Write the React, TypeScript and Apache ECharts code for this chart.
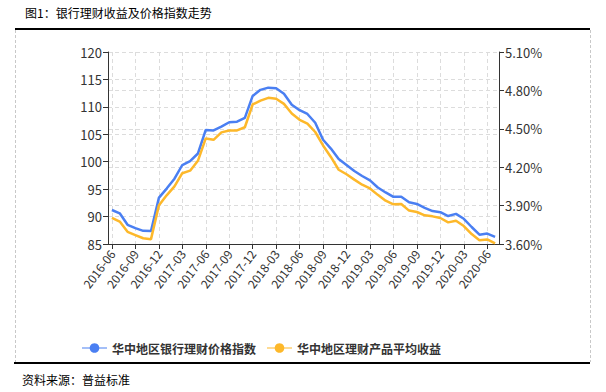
import React, { useEffect, useRef } from "react";
import * as echarts from "echarts";

const months = [
  "2016-06", "2016-07", "2016-08", "2016-09", "2016-10", "2016-11", "2016-12",
  "2017-01", "2017-02", "2017-03", "2017-04", "2017-05", "2017-06", "2017-07",
  "2017-08", "2017-09", "2017-10", "2017-11", "2017-12", "2018-01", "2018-02",
  "2018-03", "2018-04", "2018-05", "2018-06", "2018-07", "2018-08", "2018-09",
  "2018-10", "2018-11", "2018-12", "2019-01", "2019-02", "2019-03", "2019-04",
  "2019-05", "2019-06", "2019-07", "2019-08", "2019-09", "2019-10", "2019-11",
  "2019-12", "2020-01", "2020-02", "2020-03", "2020-04", "2020-05", "2020-06",
  "2020-07",
];

const priceIndex = [
  91.2, 90.6, 88.5, 87.9, 87.4, 87.35, 93.4, 95.1, 96.9, 99.4,
  100.1, 101.5, 105.8, 105.7, 106.4, 107.2, 107.3, 108.0, 112.0, 113.1,
  113.5, 113.4, 112.4, 110.4, 109.4, 108.7, 107.1, 104.0, 102.4, 100.5,
  99.4, 98.3, 97.4, 96.6, 95.3, 94.4, 93.6, 93.6, 92.6, 92.3,
  91.6, 91.0, 90.8, 90.1, 90.5, 89.6, 88.1, 86.7, 86.9, 86.3,
];

const avgYield = [
  3.805, 3.775, 3.695, 3.67, 3.645, 3.638, 3.9, 3.98, 4.05, 4.153,
  4.173, 4.25, 4.425, 4.414, 4.472, 4.486, 4.487, 4.512, 4.69, 4.72,
  4.742, 4.735, 4.695, 4.62, 4.57, 4.54, 4.475, 4.37, 4.28, 4.18,
  4.145, 4.103, 4.063, 4.034, 3.984, 3.938, 3.91, 3.912, 3.861, 3.85,
  3.824, 3.816, 3.803, 3.769, 3.782, 3.74, 3.678, 3.63, 3.636, 3.605,
];

const seriesNames = ["华中地区银行理财价格指数", "华中地区理财产品平均收益"];
const titleText = "图1：银行理财收益及价格指数走势";
const sourceText = "资料来源：普益标准";

const FONT = "'Microsoft YaHei', 'Noto Sans CJK SC', sans-serif";
const BLUE = "#4a7ff2";
const YELLOW = "#fdb82a";

export default function App() {
  const ref = useRef<HTMLDivElement>(null);
  useEffect(() => {
    if (!ref.current) return;
    const chart = echarts.init(ref.current, null, { renderer: "svg" });
    const splitLine = { show: true, lineStyle: { color: "#dcdcdc", type: [4, 3] as any, width: 1 } };
    chart.setOption({
      animation: false,
      textStyle: { fontFamily: FONT },
      grid: { left: 108, right: 107, top: 52, bottom: 148, containLabel: false },
      legend: {
        left: 76,
        top: 337,
        itemWidth: 25,
        itemHeight: 12,
        itemGap: 10,
        lineStyle: { opacity: 0.5 },
        textStyle: { fontSize: 12, fontWeight: "bold", color: "#333", fontFamily: FONT },
        data: seriesNames,
      },
      xAxis: {
        type: "category",
        data: months,
        boundaryGap: true,
        axisLine: { lineStyle: { color: "#333", width: 1 } },
        axisTick: { show: true, alignWithLabel: true, interval: 2, length: 5, lineStyle: { color: "#333" } },
        axisLabel: { interval: 2, rotate: 53, fontSize: 12, color: "#333", margin: 7, fontFamily: FONT },
        splitLine: { ...splitLine, interval: 2, alignWithLabel: true },
      },
      yAxis: [
        {
          type: "value",
          min: 85,
          max: 120,
          interval: 5,
          position: "left",
          axisLine: { show: true, lineStyle: { color: "#333" } },
          axisTick: { show: true, length: 5, lineStyle: { color: "#333" } },
          axisLabel: { fontSize: 13, color: "#333", margin: 6, fontFamily: FONT },
          splitLine,
        },
        {
          type: "value",
          min: 3.6,
          max: 5.1,
          interval: 0.3,
          position: "right",
          axisLine: { show: true, lineStyle: { color: "#333" } },
          axisTick: { show: true, length: 5, lineStyle: { color: "#333" } },
          axisLabel: {
            fontSize: 13,
            color: "#333",
            margin: 6,
            fontFamily: FONT,
            formatter: (v: number) => v.toFixed(2) + "%",
          },
          splitLine,
        },
      ],
      series: [
        {
          name: seriesNames[0],
          type: "line",
          yAxisIndex: 0,
          data: priceIndex,
          symbol: "circle",
          symbolSize: 10,
          showSymbol: false,
          itemStyle: { color: BLUE },
          lineStyle: { color: BLUE, width: 2.5 },
        },
        {
          name: seriesNames[1],
          type: "line",
          yAxisIndex: 1,
          data: avgYield,
          symbol: "circle",
          symbolSize: 10,
          showSymbol: false,
          itemStyle: { color: YELLOW },
          lineStyle: { color: YELLOW, width: 2.5 },
        },
      ],
      graphic: [
        {
          type: "text",
          left: 25,
          top: 6,
          style: { text: titleText, fontSize: 12, fill: "#000", fontFamily: FONT },
        },
        {
          type: "line",
          shape: { x1: 15, y1: 29, x2: 590, y2: 29 },
          style: { stroke: "#000", lineWidth: 2 },
        },
        {
          type: "line",
          shape: { x1: 15.5, y1: 30, x2: 15.5, y2: 362 },
          style: { stroke: "#c8c8c8", lineWidth: 1, lineDash: [3, 2] },
        },
        {
          type: "line",
          shape: { x1: 590.5, y1: 30, x2: 590.5, y2: 362 },
          style: { stroke: "#c8c8c8", lineWidth: 1, lineDash: [3, 2] },
        },
        {
          type: "line",
          shape: { x1: 14, y1: 363, x2: 590, y2: 363 },
          style: { stroke: "#000", lineWidth: 2 },
        },
        {
          type: "text",
          left: 22,
          top: 373,
          style: { text: sourceText, fontSize: 12, fill: "#000", fontFamily: FONT },
        },
      ],
    });
    return () => chart.dispose();
  }, []);
  return (
    <div
      ref={ref}
      style={{ position: "fixed", left: 0, top: 0, width: 606, height: 392, background: "#fff" }}
    />
  );
}
